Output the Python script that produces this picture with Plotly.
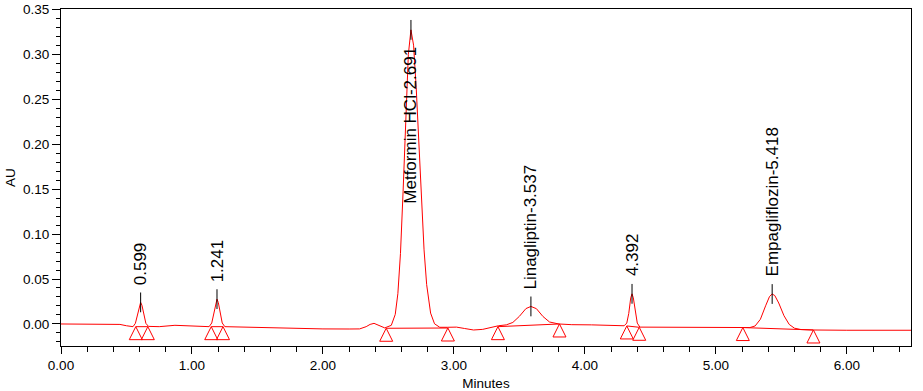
import plotly.graph_objects as go

# ---- chromatogram trace (Minutes, AU) ----
time_min = [
    0.00, 0.20, 0.40, 0.45, 0.50, 0.55,
    0.568, 0.588, 0.598, 0.608, 0.618, 0.628, 0.648, 0.668,
    0.75, 0.87, 1.00, 1.10, 1.131,
    1.151, 1.171, 1.181, 1.191, 1.201, 1.211, 1.231, 1.251,
    1.40, 1.60, 1.80, 2.00, 2.20, 2.28, 2.33, 2.36, 2.39, 2.42, 2.44, 2.472,
    2.522, 2.552, 2.572, 2.592, 2.612, 2.632, 2.652, 2.672, 2.692, 2.712,
    2.732, 2.752, 2.772, 2.792, 2.822, 2.852, 2.892,
    2.95, 3.02, 3.08, 3.15, 3.22, 3.30, 3.34,
    3.40, 3.45, 3.50, 3.55, 3.588, 3.63, 3.68, 3.73, 3.80,
    3.90, 4.05, 4.20, 4.30,
    4.32, 4.335, 4.35, 4.36, 4.37, 4.385, 4.40, 4.42,
    4.60, 4.80, 5.00, 5.15, 5.21,
    5.26, 5.30, 5.34, 5.38, 5.41, 5.43, 5.45, 5.48, 5.52, 5.56, 5.60, 5.65, 5.745,
    6.00, 6.25, 6.49,
]
absorbance_au = [
    0.000, 0.000, 0.000, -0.0005, -0.002, -0.003,
    0.0007, 0.0134, 0.0208, 0.024, 0.0208, 0.0134, 0.0007, -0.0027,
    -0.003, -0.0015, -0.002, -0.0028, -0.003,
    0.0011, 0.0156, 0.0239, 0.0276, 0.0239, 0.0156, 0.0011, -0.003,
    -0.0035, -0.0048, -0.005, -0.0055, -0.0056, -0.0055, -0.003, -0.0005, 0.0007, -0.001, -0.003, -0.0044,
    -0.0015, 0.0106, 0.0337, 0.0785, 0.1476, 0.230, 0.2995, 0.327, 0.310, 0.263,
    0.200, 0.136, 0.0824, 0.0437, 0.0121, 0.0002, -0.0037,
    -0.0037, -0.0035, -0.005, -0.0067, -0.006, -0.003, -0.002,
    -0.001, 0.0017, 0.0085, 0.0171, 0.0195, 0.0170, 0.0083, 0.0022, 0.000,
    -0.0008, -0.001, -0.0015, -0.002,
    0.001, 0.0117, 0.029, 0.0335, 0.029, 0.0117, 0.001, -0.0035,
    -0.0037, -0.0037, -0.0038, -0.004, -0.004,
    -0.004, -0.0022, 0.0052, 0.0202, 0.0306, 0.0333, 0.0316, 0.0233, 0.0092, -0.0005, -0.0047, -0.0062, -0.0067,
    -0.007, -0.007, -0.007,
]

# ---- integrated peaks ----
peak_labels = ["0.599", "1.241", "Metformin HCl-2.691", "Linagliptin-3.537", "4.392", "Empagliflozin-5.418"]
apex_time = [0.608, 1.191, 2.672, 3.588, 4.36, 5.43]
apex_au = [0.024, 0.0276, 0.327, 0.0195, 0.0335, 0.0333]
start_time = [0.571, 1.147, 2.483, 3.336, 4.32, 5.206]
start_au = [-0.003, -0.003, -0.0048, -0.003, -0.0022, -0.004]
end_time = [0.663, 1.237, 2.954, 3.806, 4.415, 5.745]
end_au = [-0.003, -0.003, -0.0045, 0.000, -0.0037, -0.0067]

x_ticks = [0, 1, 2, 3, 4, 5, 6]
y_ticks = [0.00, 0.05, 0.10, 0.15, 0.20, 0.25, 0.30, 0.35]

# ---- styling / layout constants ----
RED = "#FF0000"
FONT = "Liberation Sans, Arial, sans-serif"
X_RANGE = [0, 6.49]
Y_RANGE = [-0.0245, 0.3502]
PX_PER_MIN = 850 / (X_RANGE[1] - X_RANGE[0])
PX_PER_AU = 337 / (Y_RANGE[1] - Y_RANGE[0])
TRI_HALF_W = 6.5 / PX_PER_MIN
TRI_H = 13 / PX_PER_AU
TICK_UP = 0.011
TICK_DOWN = 0.011
LABEL_GAP = 0.017
label_override = {2: 0.132}

fig = go.Figure()

# signal
fig.add_trace(go.Scatter(x=time_min, y=absorbance_au, mode="lines",
                         line=dict(color=RED, width=1), hoverinfo="skip"))

# integration baselines
bx, by = [], []
for s, sa, e, ea in zip(start_time, start_au, end_time, end_au):
    bx += [s, e, None]
    by += [sa, ea, None]
fig.add_trace(go.Scatter(x=bx, y=by, mode="lines", line=dict(color=RED, width=1), hoverinfo="skip"))

# start / end triangles
tx, ty = [], []
for t, a in list(zip(start_time, start_au)) + list(zip(end_time, end_au)):
    tx += [t, t - TRI_HALF_W, t + TRI_HALF_W, t, None]
    ty += [a, a - TRI_H, a - TRI_H, a, None]
fig.add_trace(go.Scatter(x=tx, y=ty, mode="lines", line=dict(color=RED, width=1), hoverinfo="skip"))

# apex tick marks
kx, ky = [], []
for t, a in zip(apex_time, apex_au):
    kx += [t, t, None]
    ky += [a - TICK_DOWN, a + TICK_UP, None]
fig.add_trace(go.Scatter(x=kx, y=ky, mode="lines", line=dict(color="black", width=1), hoverinfo="skip"))

# rotated labels
for i, (lab, t, a) in enumerate(zip(peak_labels, apex_time, apex_au)):
    ly = label_override.get(i, a + LABEL_GAP)
    fig.add_annotation(x=t, y=ly, text=lab, textangle=-90, showarrow=False,
                       xanchor="center", yanchor="bottom",
                       font=dict(family=FONT, size=17, color="black"))

fig.update_layout(
    width=923, height=391,
    margin=dict(l=61, r=12, t=9, b=45),
    paper_bgcolor="white", plot_bgcolor="white",
    showlegend=False,
    font=dict(family=FONT, size=13.5, color="black"),
)
fig.update_xaxes(
    range=X_RANGE, tickvals=x_ticks, tickformat=".2f", ticklabeloverflow="allow",
    showline=True, linecolor="black", linewidth=1, mirror=True,
    ticks="outside", ticklen=7, tickcolor="black", tickwidth=1,
    minor=dict(dtick=0.2, ticks="outside", ticklen=5, tickcolor="black", showgrid=False),
    showgrid=False, zeroline=False,
    title=dict(text="Minutes", standoff=8, font=dict(size=13.5)),
    automargin=False,
)
fig.update_yaxes(
    range=Y_RANGE, tickvals=y_ticks, tickformat=".2f", ticklabeloverflow="allow",
    showline=True, linecolor="black", linewidth=1, mirror=True,
    ticks="outside", ticklen=8, tickcolor="black", tickwidth=1,
    minor=dict(dtick=0.01, tick0=0, ticks="outside", ticklen=4, tickcolor="black", showgrid=False),
    showgrid=False, zeroline=False,
    title=dict(text="AU", standoff=4, font=dict(size=13.5)),
    automargin=False,
)

# remove the default page margin so the figure sits at the window's top-left corner
fig.write_html("out.html", config={"displayModeBar": False},
               post_script="document.body.style.margin='0';")
